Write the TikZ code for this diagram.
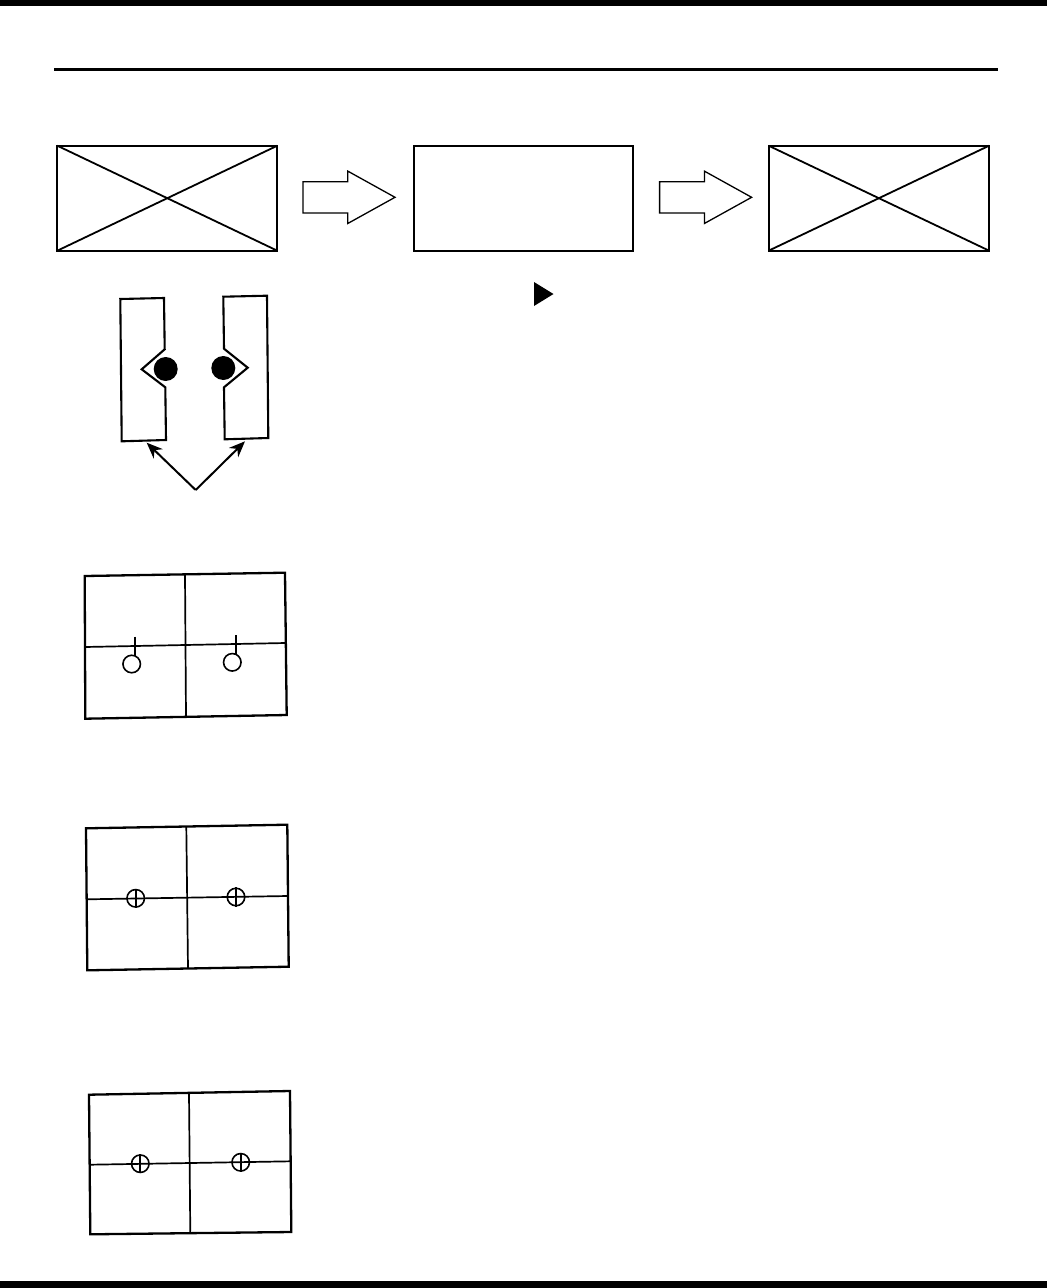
\documentclass[tikz,border=0pt]{standalone}
\usepackage{tikz}
\usetikzlibrary{positioning, shapes.arrows, arrows.meta}

\begin{document}
\begin{tikzpicture}[
    x=1pt, y=-1pt,
    frame/.style={draw, line width=2pt, outer sep=0pt, inner sep=0pt, minimum width=220pt, minimum height=105pt},
    crossline/.style={line width=1.8pt},
    blockarrow/.style={single arrow, draw, line width=1.3pt, outer sep=0pt, inner xsep=0pt, inner ysep=15pt, minimum height=92pt,
      single arrow head extend=10.5pt, single arrow tip angle=58},
    plate/.style={draw, line width=2.1pt, line join=miter},
    gridframe/.style={draw, line width=2.3pt},
    gridline/.style={draw, line width=1.7pt},
    ball/.style={circle, fill=black, inner sep=0pt, minimum size=24pt},
    ring/.style={circle, draw, fill=white, line width=1.6pt, inner sep=0pt, minimum size=17.5pt},
    pointer/.style={line width=2pt, -{Stealth[length=16pt, width=13pt]}}
  ]
    \useasboundingbox (0,0) rectangle (1047,1288);
    \fill (0,0) rectangle (1047,5.5);
    \fill (0,1281) rectangle (1047,1288);
    \fill (54,68) rectangle (998,71);

    % top row
    \node[frame] (boxa) at (167.3,198.2) {};
    \node[blockarrow, right=25.7pt of boxa, yshift=0.9pt] (flowa) {};
    \node[frame, minimum width=219pt, right=18.8pt of flowa, yshift=-0.9pt] (boxb) {};
    \node[blockarrow, right=26.8pt of boxb, yshift=0.9pt] (flowb) {};
    \node[frame, minimum width=220.5pt, right=17pt of flowb, yshift=-0.9pt] (boxc) {};
    \draw[crossline] (boxa.north west) -- (boxa.south east);
    \draw[crossline] (boxa.south west) -- (boxa.north east);
    \draw[crossline] (boxc.north west) -- (boxc.south east);
    \draw[crossline] (boxc.south west) -- (boxc.north east);
    \fill (534,282) -- (553.5,294) -- (534,306) -- cycle;

    % jaws
    \draw[plate] (120.3,299) -- (164,298) -- (164.7,349.3) -- (141.7,369.3) -- (165.3,387.3) -- (166,440) -- (121.7,441.3) -- cycle;
    \draw[plate] (223.3,296.7) -- (267,295.7) -- (268.3,438) -- (224.7,439.3) -- (224,387.3) -- (247.7,367.7) -- (224,348.7) -- cycle;
    \node[ball] (balla) at (165.7,369) {};
    \node[ball] (ballb) at (223.3,368) {};
    \coordinate (apex) at (195.7,490);
    \coordinate (jawa) at (146.7,442.7);
    \coordinate (jawb) at (245,441.3);
    \draw[pointer] (apex) -- (jawa);
    \draw[pointer] (apex) -- (jawb);

    % first grid
    \draw[gridframe] (84.7,576) -- (285,572.7) -- (286.7,715) -- (85.3,718.7) -- cycle;
    \draw[gridline] (185,574.7) -- (186,716.5);
    \draw[gridline] (85,647) -- (285.5,643);
    \node[ring] (ringa) at (131.7,664) {};
    \node[ring] (ringb) at (232.3,662.3) {};
    \draw[gridline] (135.3,636.7) -- (135.3,656);
    \draw[gridline] (236,635) -- (236,654.3);

    % second grid
    \draw[gridframe] (86,828.3) -- (287.3,824.7) -- (288.7,966.7) -- (87.3,970.3) -- cycle;
    \draw[gridline] (186.3,826.7) -- (188,968.3);
    \draw[gridline] (87.3,899.3) -- (287.7,896);
    \node[ring, fill=none] (ringc) at (135.7,898.3) {};
    \node[ring, fill=none] (ringd) at (236,897) {};
    \draw[gridline] (ringc.north) -- (ringc.south);
    \draw[gridline] (ringd.north) -- (ringd.south);

    % third grid
    \draw[gridframe] (89,1094.7) -- (290,1091) -- (291.3,1232) -- (90.3,1234.3) -- cycle;
    \draw[gridline] (189,1092.7) -- (190.3,1233);
    \draw[gridline] (90,1164.7) -- (290.5,1161.3);
    \node[ring, fill=none] (ringe) at (140.3,1163.7) {};
    \node[ring, fill=none] (ringf) at (240.7,1162.3) {};
    \draw[gridline] (ringe.north) -- (ringe.south);
    \draw[gridline] (ringf.north) -- (ringf.south);
  \end{tikzpicture}
\end{document}
